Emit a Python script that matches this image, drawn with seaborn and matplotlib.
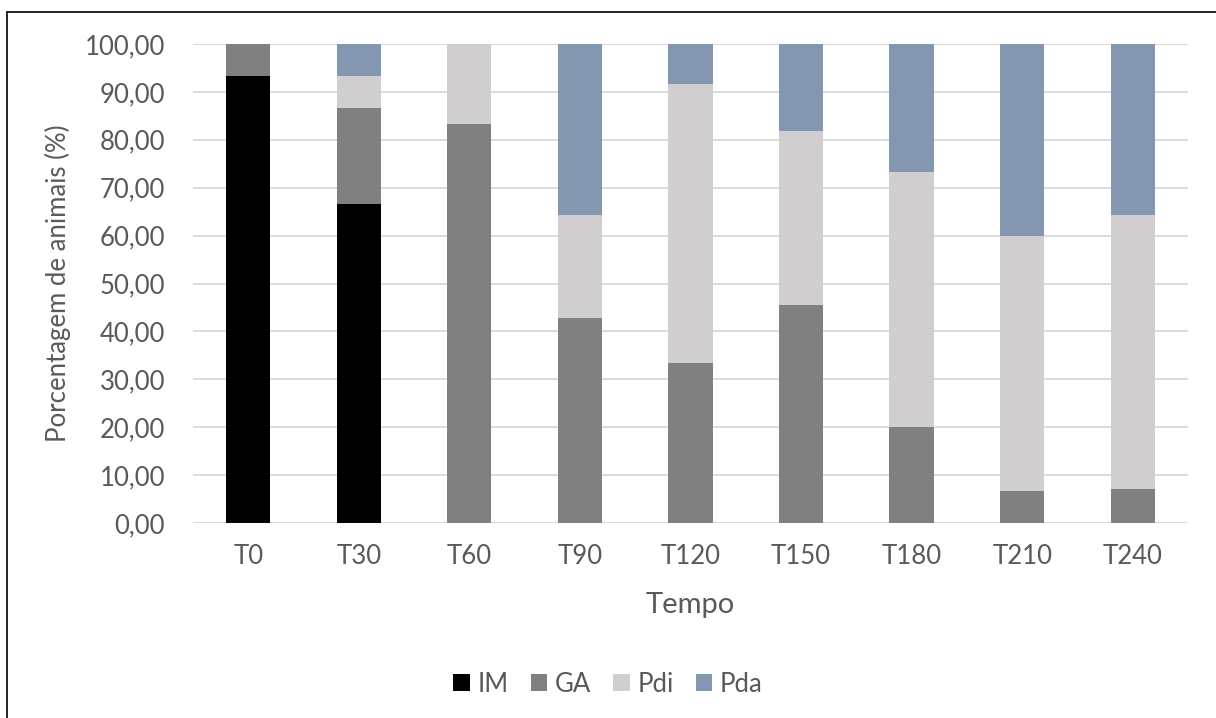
import pandas as pd
import seaborn as sns
import numpy as np
import matplotlib.pyplot as plt
from matplotlib.patches import Patch
from matplotlib.lines import Line2D

tempos = ["T0", "T30", "T60", "T90", "T120", "T150", "T180", "T210", "T240"]
im = [93.33, 66.67, 0, 0, 0, 0, 0, 0, 0]
ga = [6.67, 20.00, 83.33, 42.86, 33.33, 45.45, 20.00, 6.67, 7.14]
pdi = [0, 6.67, 16.67, 21.43, 58.33, 36.36, 53.33, 53.33, 57.14]
pda = [0, 6.67, 0, 35.71, 8.33, 18.18, 26.67, 40.00, 35.71]

fases = ["IM", "GA", "Pdi", "Pda"]
cores = {"IM": "#000000", "GA": "#808080", "Pdi": "#d0cece", "Pda": "#8497b0"}

df = pd.DataFrame({"Tempo": tempos, "IM": im, "GA": ga, "Pdi": pdi, "Pda": pda})
# cumulative tops so the bars can be drawn one over another
cum = df[fases].cumsum(axis=1)
cum["Tempo"] = df["Tempo"]

sns.set_style("white")
plt.rcParams['font.family'] = ['Lato', 'DejaVu Sans']

fig, ax = plt.subplots(figsize=(12.16, 7.18), dpi=100)
fig.subplots_adjust(left=193/1216, right=1188/1216, top=1-44/718, bottom=1-523/718)

for f in reversed(fases):
    sns.barplot(ax=ax, data=cum, x="Tempo", y=f, color=cores[f],
                width=0.4, saturation=1, linewidth=0, errorbar=None, zorder=3)

ax.set_ylim(0, 100)
ax.set_yticks(np.arange(0, 101, 10))
ax.set_yticklabels([f"{v:.2f}".replace(".", ",") for v in np.arange(0, 101, 10)])
ax.grid(axis="y", color="#d9d9d9", linewidth=1.3, zorder=0)
ax.set_axisbelow(True)
for s in ax.spines.values():
    s.set_visible(False)
ax.tick_params(axis="both", length=0, labelsize=18.5, colors="#595959")
ax.tick_params(axis="y", pad=20)
ax.tick_params(axis="x", pad=15)
ax.set_xlabel("Tempo", fontsize=21, color="#595959", labelpad=17)
ax.set_ylabel("Porcentagem de animais (%)", fontsize=18.5, color="#595959", labelpad=10)

handles = [Patch(facecolor=cores[f], edgecolor="none", label=f) for f in fases]
fig.legend(handles=handles, loc="center", bbox_to_anchor=(0.5, 1-684/718), ncol=4,
           frameon=False, fontsize=18.5, labelcolor="#595959", handlelength=0.65,
           handleheight=0.65, handletextpad=0.3, columnspacing=0.85)

# outer chart frame (left and top edges visible)
fig.add_artist(Line2D([7/1216, 7/1216], [0, 1-12/718], color="black", linewidth=1.2))
fig.add_artist(Line2D([7/1216, 1], [1-12/718, 1-12/718], color="black", linewidth=1.2))

fig.savefig("out.png", dpi=100)
